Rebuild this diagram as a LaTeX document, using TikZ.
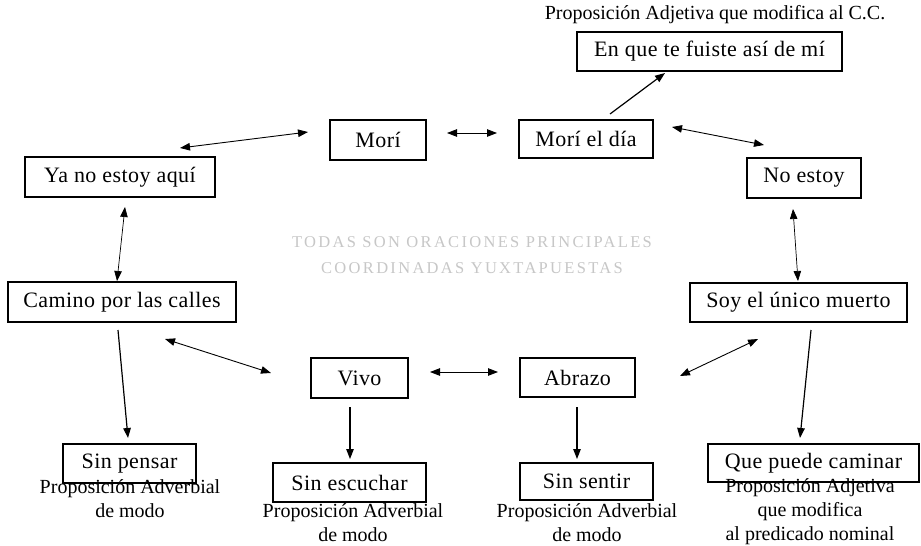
\documentclass[tikz,border=0pt]{standalone}
\usepackage{fontspec}
\setmainfont{Liberation Serif}
\newfontfamily\boxfont[LetterSpace=2]{Liberation Serif}
\newfontfamily\centerfont[LetterSpace=14]{Liberation Serif}
\usetikzlibrary{arrows.meta}
\begin{document}
\begin{tikzpicture}[x=1pt,y=-1pt,
  box/.style={draw, line width=1.2pt, inner sep=0pt, font=\boxfont\fontsize{22}{26}\selectfont},
  lab/.style={align=center, inner sep=0pt, font=\fontsize{20}{24}\selectfont},
  tip/.tip={Triangle[length=10pt,width=7.5pt]},
  both/.style={line width=0.9pt, tip-tip},
  one/.style={line width=1.2pt, -tip}]
\useasboundingbox (0,0) rectangle (921,546);
\fill[white] (0,0) rectangle (921,546);

% boxes
\node[box, minimum width=265, minimum height=39] (en) at (709.5,51.5) {En que te fuiste así de mí};
\node[box, minimum width=96, minimum height=40] (mori) at (378,140) {Morí};
\node[box, minimum width=134, minimum height=38] (dia) at (586,139) {Morí el día};
\node[box, minimum width=190, minimum height=40] (ya) at (120,177) {Ya no estoy aquí};
\node[box, minimum width=114, minimum height=40] (no) at (804,178) {No estoy};
\node[box, minimum width=228, minimum height=40] (camino) at (122,302) {Camino por las calles};
\node[box, minimum width=217, minimum height=39] (soy) at (798.5,302.5) {Soy el único muerto};
\node[box, minimum width=97, minimum height=40] (vivo) at (359.5,378) {Vivo};
\node[box, minimum width=115, minimum height=39] (abrazo) at (577.5,377.5) {Abrazo};
\node[box, minimum width=133, minimum height=39] (pensar) at (129.5,463.5) {Sin pensar};
\node[box, minimum width=153, minimum height=39] (escuchar) at (349.5,482.5) {Sin escuchar};
\node[box, minimum width=133, minimum height=37] (sentir) at (586.5,481.5) {Sin sentir};
\node[box, minimum width=211, minimum height=38] (que) at (813.5,463) {Que puede caminar};

% labels
\node[lab] (lcc) at (715,15) {Proposición Adjetiva que modifica al C.C.};
\node[lab] (lpensar) at (130,499) {Proposición Adverbial\\de modo};
\node[lab] (lescuchar) at (353,522.5) {Proposición Adverbial\\de modo};
\node[lab] (lsentir) at (587,522.5) {Proposición Adverbial\\de modo};
\node[lab] (lque) at (810,512) {Proposición Adjetiva\\que modifica\\al predicado nominal};

\node[align=center, text=black!22, font=\centerfont\fontsize{16.5}{26}\selectfont] (center) at (472,255)
  {TODAS SON ORACIONES PRINCIPALES\\COORDINADAS YUXTAPUESTAS};

% connector end points
\coordinate (ya-r) at (180,148);
\coordinate (mori-l) at (308,132);
\coordinate (mori-r) at (447,133);
\coordinate (dia-l) at (497,133);
\coordinate (dia-t) at (610,114);
\coordinate (en-b) at (665,73);
\coordinate (dia-r) at (672,127);
\coordinate (no-l) at (764,145);
\coordinate (ya-b) at (125,207);
\coordinate (camino-t) at (117,281);
\coordinate (no-b) at (793,209);
\coordinate (soy-t) at (798,281);
\coordinate (camino-b) at (118,330);
\coordinate (pensar-t) at (128,438);
\coordinate (camino-r) at (165,339);
\coordinate (vivo-l) at (271,373);
\coordinate (vivo-r) at (430,372);
\coordinate (abrazo-l) at (498,372);
\coordinate (abrazo-r) at (680,376);
\coordinate (soy-l) at (758,339);
\coordinate (soy-b) at (811,330);
\coordinate (que-t) at (800,438);
\coordinate (vivo-b) at (350,407);
\coordinate (escuchar-t) at (350,459);
\coordinate (abrazo-b) at (577,407);
\coordinate (sentir-t) at (577,459);

% connectors
\draw[both] (ya-r) -- (mori-l);
\draw[both] (mori-r) -- (dia-l);
\draw[one] (dia-t) -- (en-b);
\draw[both] (dia-r) -- (no-l);
\draw[both, line width=0.7pt] (ya-b) -- (camino-t);
\draw[both, line width=0.7pt] (no-b) -- (soy-t);
\draw[one] (camino-b) -- (pensar-t);
\draw[both] (camino-r) -- (vivo-l);
\draw[both] (vivo-r) -- (abrazo-l);
\draw[both] (abrazo-r) -- (soy-l);
\draw[one] (soy-b) -- (que-t);
\draw[one] (vivo-b) -- (escuchar-t);
\draw[one] (abrazo-b) -- (sentir-t);
\end{tikzpicture}
\end{document}
